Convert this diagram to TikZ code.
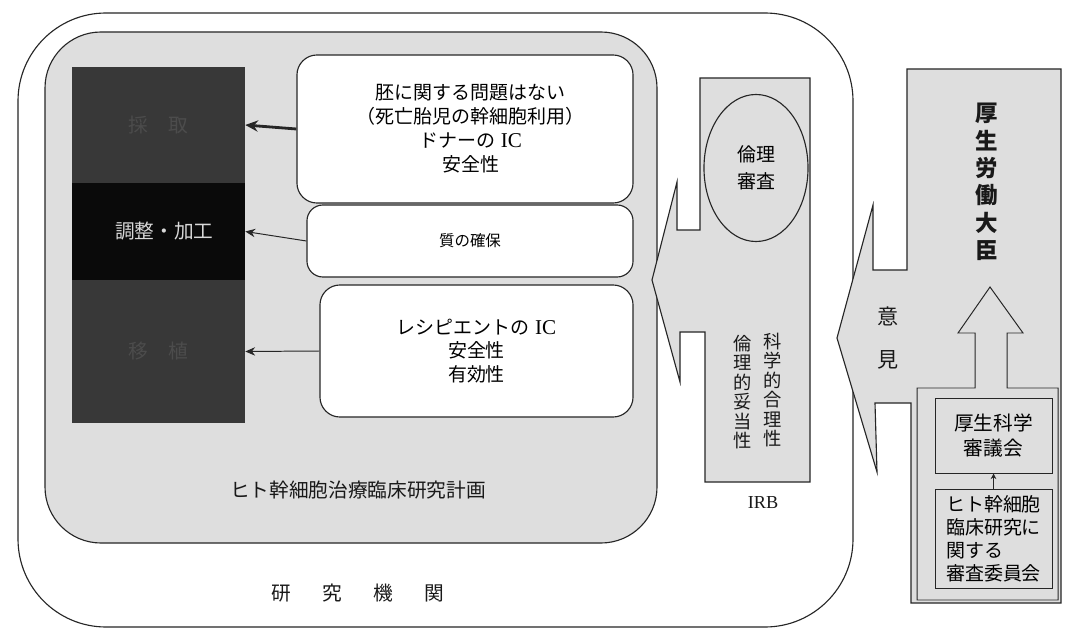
\documentclass[tikz,border=0pt]{standalone}
\usepackage{fontspec}
\setmainfont{Noto Sans CJK JP}
\newfontfamily\latf{Liberation Serif}
\usetikzlibrary{arrows.meta,shapes.geometric}
\newcommand\kgap{\hspace{1.6em}}
\tikzset{
  stip/.style={fill=black!13},
  ln/.style={draw=black!85, line width=0.8pt},
  wbox/.style={draw=black!85, line width=0.8pt, fill=white, rounded corners=0.5cm, inner sep=0pt, align=center},
  band/.style={inner sep=0pt, minimum width=4.325cm, align=center},
  con/.style={draw=black!85, line width=0.7pt, -{Stealth[length=7pt,width=6pt]}},
  tbox/.style={draw=black!85, line width=0.7pt, fill=black!13, inner sep=0pt, minimum width=2.925cm},
  lbl/.style={inner sep=0pt, align=center, text=black!90},
}
\begin{document}
\begin{tikzpicture}[x=0.025cm, y=-0.025cm]
\useasboundingbox (0,0) rectangle (1065,630);
\fill[white] (0,0) rectangle (1065,630);
% outer frame: research institution
\draw[ln, fill=white, rounded corners=2.2cm] (18,13) rectangle (853,627);
% inner stippled frame: research plan
\draw[ln, stip, rounded corners=1.4cm] (45,32) rectangle (657,543);
\node[lbl, font=\fontsize{14}{16}\selectfont] (plan) at (358,490) {ヒト幹細胞治療臨床研究計画};
\node[lbl, font=\fontsize{14}{16}\selectfont] (inst) at (358,593) {研\kgap 究\kgap 機\kgap 関};
% dark column
\node[band, fill=black!78, minimum height=2.9cm, text=black!70, font=\fontsize{14}{16}\selectfont] (top) at (158.5,125) {採\hspace{1em}取};
\node[band, fill=black!96, minimum height=2.425cm, text=black!15, font=\fontsize{14}{16}\selectfont] (mid) at (158.5,231.5) {\hspace{0.6em}調整・加工};
\node[band, fill=black!78, minimum height=3.575cm, text=black!70, font=\fontsize{14}{16}\selectfont] (bot) at (158.5,351.5) {移\hspace{1em}植};
% white boxes
\node[wbox, minimum width=8.4cm, minimum height=3.7cm, font=\fontsize{13.5}{17}\selectfont] (b1) at (465,129)
  {\hspace{0.6em}胚に関する問題はない\\\hspace{0.6em}（死亡胎児の幹細胞利用）\\\hspace{0.6em}ドナーの{\latf\fontsize{15}{17}\selectfont\ IC}\\\hspace{0.6em}安全性};
\node[wbox, minimum width=8.15cm, minimum height=1.8cm, rounded corners=0.4cm, font=\fontsize{11}{13}\selectfont] (b2) at (470,241) {質の確保};
\node[wbox, minimum width=7.825cm, minimum height=3.3cm, font=\fontsize{13.5}{16.5}\selectfont] (b3) at (476.5,351)
  {レシピエントの{\latf\fontsize{15}{16.5}\selectfont\ IC}\\安全性\\有効性};
\draw[con, line width=2pt, -{Stealth[length=9pt,width=8pt]}] (b1.west) -- (top.east);
\draw[con] (b2.west) -- (mid.east);
\draw[con] (b3.west) -- (bot.east);
% IRB block arrow
\draw[ln, stip] (700,78) -- (810,78) -- (810,482) -- (705,482) -- (705,332) -- (680,332)
  -- (680,382) -- (652,280) -- (677,182) -- (677,230) -- (700,230) -- cycle;
\node[ellipse, ln, stip, minimum width=2.6cm, minimum height=3.675cm, inner sep=0pt, align=center,
  font=\fontsize{13.5}{19}\selectfont] (eth) at (756,168) {倫理\\審査};
\node[lbl, font=\fontsize{13}{13.8}\selectfont] (sci) at (773,390) {科\\学\\的\\合\\理\\性};
\node[lbl, font=\fontsize{13}{13.8}\selectfont] (moral) at (743,392) {倫\\理\\的\\妥\\当\\性};
\node[lbl, font=\latf\fontsize{13}{15}\selectfont] (irb) at (763,503) {IRB};
% Minister block with opinion arrow
\draw[ln, stip] (907,69) -- (1061,69) -- (1061,603) -- (911,603) -- (911,403) -- (875,403)
  -- (877,472) -- (837,338) -- (873,205) -- (873,270) -- (907,270) -- cycle;
\node[lbl, font=\bfseries\fontsize{16}{19.5}\selectfont] (min) at (987,182) {厚\\生\\労\\働\\大\\臣};
\node[lbl, font=\fontsize{15}{30.5}\selectfont] (op) at (888,338) {意\\見};
% committee frame with upward arrow
\draw[ln, line width=0.7pt] (917,600) -- (917,388) -- (975,388) -- (975,333) -- (958,333) -- (990,287)
  -- (1023,333) -- (1007,333) -- (1007,388) -- (1058,388) -- (1058,600) -- cycle;
\node[tbox, minimum height=1.875cm, align=center, font=\fontsize{14}{17.8}\selectfont] (council) at (993.5,435.5) {厚生科学\\審議会};
\node[tbox, minimum height=2.45cm, align=left, font=\fontsize{13.5}{16.3}\selectfont] (comm) at (993.5,539) {ヒト幹細胞\\臨床研究に\\関する\\審査委員会};
\draw[con, -{Stealth[length=4pt,width=4pt]}] (comm.north) -- (council.south);
\end{tikzpicture}
\end{document}
